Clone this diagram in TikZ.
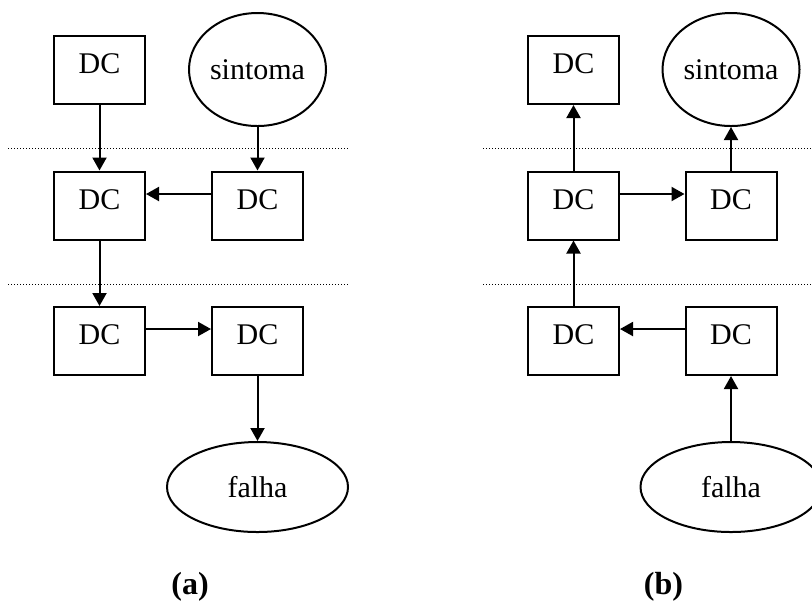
\documentclass[tikz,border=0pt]{standalone}
\usepackage{fontspec}
\setmainfont{Liberation Serif}
\usetikzlibrary{positioning}
\usetikzlibrary{shapes.geometric}
\usetikzlibrary{arrows.meta}

\begin{document}
\begin{tikzpicture}[x=0.5pt, y=-0.5pt,
		dc/.style={rectangle, draw, line width=1pt, minimum width=45.5pt, minimum height=34pt, inner sep=0pt, text depth=6pt, font=\fontsize{15}{18}\selectfont},
		ev/.style={ellipse, draw, line width=1pt, inner sep=0pt, font=\fontsize{15}{18}\selectfont},
		seta/.style={line width=1pt, -{Triangle[length=6.5pt, width=7pt]}},
		nivel/.style={line width=0.5pt, dash pattern=on 0.5pt off 1pt},
		rotulo/.style={font=\fontsize{16}{19}\selectfont\bfseries}]
				\clip (0,0) rectangle (812,602);
				
				% (a)
				\node[dc] (a1) at (99.5,70) {DC};
				\node[ev, minimum width=68.5pt, minimum height=56.5pt] (aS) at (257.5,69.5) {sintoma};
				\node[dc] (a2) at (99.5,205.5) {DC};
				\node[dc] (a3) at (257.5,205.5) {DC};
				\node[dc] (a4) at (99.5,341) {DC};
				\node[dc] (a5) at (257.5,341) {DC};
				\node[ev, minimum width=90.5pt, minimum height=45pt] (aF) at (257.5,487) {falha};
				\node[rotulo] (la) at (190,587) {(a)};
				
				\draw[nivel] (8,148) -- (348,148);
				\draw[nivel] (8,284) -- (348,284);
				
				\draw[seta] (a1) -- (a2);
				\draw[seta] (aS) -- (a3);
				\draw[seta] ([yshift=5.75pt]a3.west) -- ([yshift=5.75pt]a2.east);
				\draw[seta] (a2) -- (a4);
				\draw[seta] ([yshift=6pt]a4.east) -- ([yshift=6pt]a5.west);
				\draw[seta] (a5) -- (aF);
				
				% (b)
				\node[dc] (b1) at (573.5,70) {DC};
				\node[ev, minimum width=68.5pt, minimum height=56.5pt] (bS) at (731,69.5) {sintoma};
				\node[dc] (b2) at (573.5,205.5) {DC};
				\node[dc] (b3) at (731,205.5) {DC};
				\node[dc] (b4) at (573.5,341) {DC};
				\node[dc] (b5) at (731,341) {DC};
				\node[ev, minimum width=90.5pt, minimum height=45pt] (bF) at (731,487) {falha};
				\node[rotulo] (lb) at (663.5,587) {(b)};
				
				\draw[nivel] (483,148) -- (812,148);
				\draw[nivel] (483,284) -- (812,284);
				
				\draw[seta] (b2) -- (b1);
				\draw[seta] (b3) -- (bS);
				\draw[seta] ([yshift=5.75pt]b2.east) -- ([yshift=5.75pt]b3.west);
				\draw[seta] (b4) -- (b2);
				\draw[seta] ([yshift=6pt]b5.west) -- ([yshift=6pt]b4.east);
				\draw[seta] (bF) -- (b5);
			\end{tikzpicture}
\end{document}
